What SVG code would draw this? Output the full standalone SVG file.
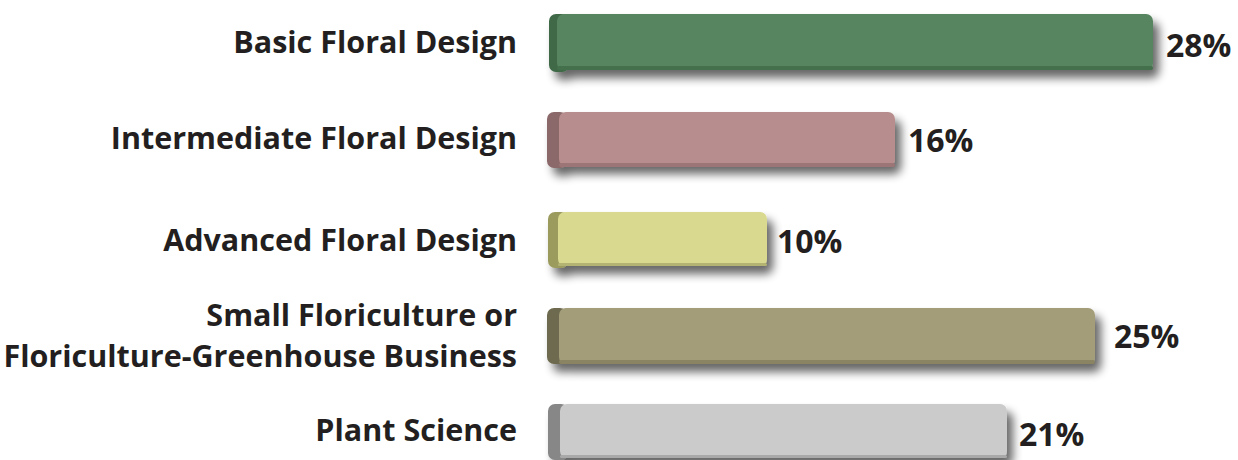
<svg xmlns="http://www.w3.org/2000/svg" width="1238" height="460" viewBox="0 0 1238 460">
<defs>
<filter id="sh" x="-5%" y="-30%" width="115%" height="190%">
<feGaussianBlur in="SourceAlpha" stdDeviation="5"/>
<feOffset dx="6" dy="8" result="b"/>
<feComponentTransfer><feFuncA type="linear" slope="0.6"/></feComponentTransfer>
<feMerge><feMergeNode/><feMergeNode in="SourceGraphic"/></feMerge>
</filter>
</defs>
<style>
.lab{font-family:"Open Sans","Liberation Sans",sans-serif;font-weight:bold;font-size:30.5px;fill:#231f20;text-anchor:end}
.pct{font-family:"Open Sans","Liberation Sans",sans-serif;font-weight:bold;font-size:32px;fill:#231f20}
</style>
<rect width="1238" height="460" fill="#fff"/>
<g id="bar-basic">
<g filter="url(#sh)">
<rect x="549" y="14" width="20" height="58" rx="7" fill="#3f6946"/>
<rect x="557" y="14" width="596" height="56" rx="7" fill="#568560"/>
</g>
<rect x="557" y="66" width="596" height="4" rx="2" fill="#44704c"/>
<text class="lab" x="517" y="53">Basic Floral Design</text>
<text class="pct" x="1166" y="57">28%</text>
</g>
<g id="bar-intermediate">
<g filter="url(#sh)">
<rect x="547" y="112" width="20" height="56" rx="7" fill="#8b6769"/>
<rect x="559" y="112" width="336" height="54" rx="7" fill="#b78e8d"/>
</g>
<rect x="559" y="163" width="336" height="4" rx="2" fill="#9c7576"/>
<text class="lab" x="517" y="149">Intermediate Floral Design</text>
<text class="pct" x="908" y="152">16%</text>
</g>
<g id="bar-advanced">
<g filter="url(#sh)">
<rect x="548" y="212" width="20" height="56" rx="7" fill="#9a9b5d"/>
<rect x="558" y="212" width="209" height="54" rx="7" fill="#d9d98f"/>
</g>
<rect x="558" y="263" width="209" height="3" rx="1.5" fill="#b3b373"/>
<text class="lab" x="517" y="251">Advanced Floral Design</text>
<text class="pct" x="777" y="253">10%</text>
</g>
<g id="bar-floriculture">
<g filter="url(#sh)">
<rect x="547" y="308" width="20" height="56" rx="7" fill="#6e6a50"/>
<rect x="559" y="308" width="536" height="56" rx="7" fill="#a39d79"/>
</g>
<rect x="559" y="360" width="536" height="4" rx="2" fill="#8a8463"/>
<text class="lab" x="517" y="326">Small Floriculture or</text>
<text class="lab" x="517" y="367">Floriculture-Greenhouse Business</text>
<text class="pct" x="1114" y="348">25%</text>
</g>
<g id="bar-plant">
<g filter="url(#sh)">
<rect x="548" y="404" width="20" height="56" rx="7" fill="#878787"/>
<rect x="560" y="404" width="447" height="54" rx="7" fill="#cbcbcb"/>
</g>
<rect x="560" y="455" width="447" height="3" rx="1.5" fill="#a9a9a9"/>
<text class="lab" x="517" y="441">Plant Science</text>
<text class="pct" x="1019" y="446">21%</text>
</g>
</svg>
